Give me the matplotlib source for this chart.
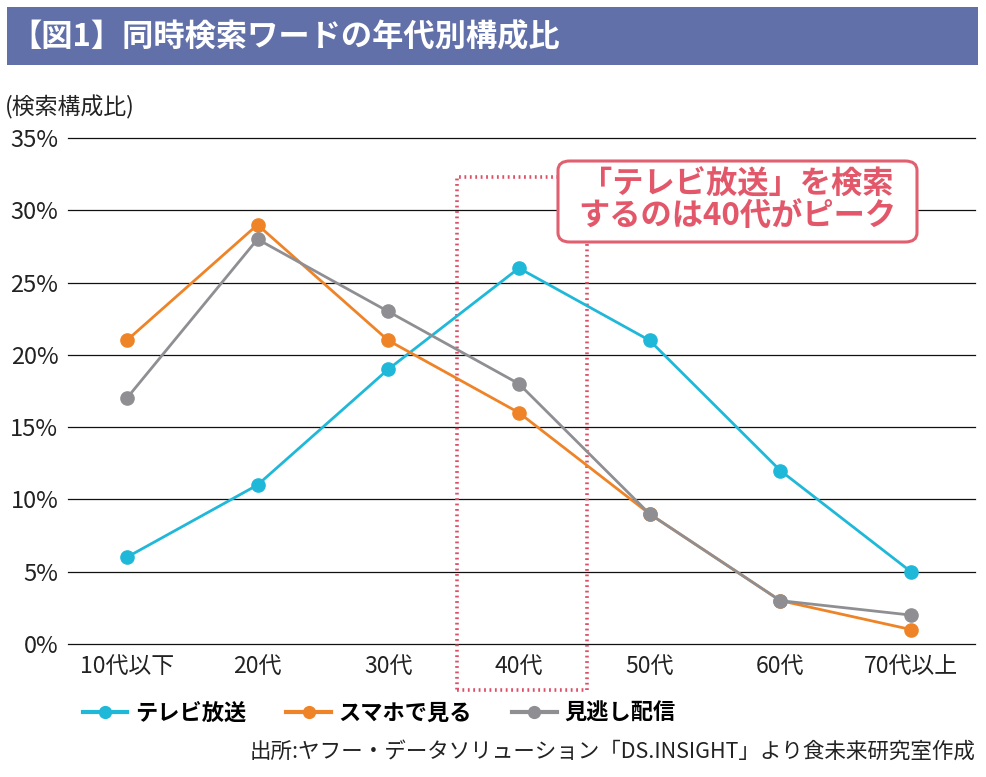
import matplotlib.pyplot as plt
from matplotlib.patches import Rectangle, FancyBboxPatch
from matplotlib.lines import Line2D

plt.rcParams['font.family'] = ['Noto Sans CJK JP', 'DejaVu Sans']

# data (percent)
ages = ['10代以下', '20代', '30代', '40代', '50代', '60代', '70代以上']
tv = [6, 11, 19, 26, 21, 12, 5]
smartphone = [21, 29, 21, 16, 9, 3, 1]
catchup = [17, 28, 23, 18, 9, 3, 2]
series_names = ['テレビ放送', 'スマホで見る', '見逃し配信']
series_colors = ['#1FB8D9', '#EE8427', '#8F8F93']
yticks = [0, 5, 10, 15, 20, 25, 30, 35]

W, H = 986, 777
fig = plt.figure(figsize=(W / 100, H / 100), dpi=100)

# title bar
fig.patches.append(Rectangle((7 / W, 1 - 65 / H), (978 - 7) / W, (65 - 7) / H,
                             transform=fig.transFigure, facecolor='#6170A8',
                             edgecolor='none', zorder=0))
fig.text(10 / W, 1 - 37 / H, '【図1】同時検索ワードの年代別構成比', color='white',
         fontsize=22.5, fontweight='bold', va='center', ha='left')

ax = fig.add_axes([68 / W, 1 - 644 / H, (975 - 68) / W, (644 - 138) / H])
x = list(range(len(ages)))
for vals, name, col in zip([tv, smartphone, catchup], series_names, series_colors):
    ax.plot(x, vals, color=col, lw=2.0, marker='o', markersize=9.5,
            label=name, zorder=4, clip_on=False)

ax.set_ylim(0, 35)
ax.set_xlim(-0.45, 6.49)
ax.set_yticks(yticks)
ax.set_yticklabels([f'{v}%' for v in yticks])
ax.set_xticks(x)
ax.set_xticklabels(ages)
ax.tick_params(axis='both', length=0, colors='#222222')
ax.tick_params(axis='y', pad=7, labelsize=17)
ax.tick_params(axis='x', pad=8, labelsize=16.5)
ax.grid(axis='y', color='#111111', lw=0.9)
for gl in ax.get_ygridlines():
    gl.set_clip_on(False)
ax.set_axisbelow(True)
for s in ax.spines.values():
    s.set_visible(False)

# dotted highlight around 40代
ax.add_patch(Rectangle((2.525, -3.2), 0.995, 35.5, fill=False, edgecolor='#DD4F66',
                       lw=2.6, linestyle=(0, (0.5, 1.0)), clip_on=False, zorder=2))

# callout box
fig.patches.append(FancyBboxPatch((558 / W, 1 - 242 / H), (917 - 558) / W, (242 - 161) / H,
                                  boxstyle='round,pad=0,rounding_size=0.012',
                                  transform=fig.transFigure, facecolor='white',
                                  edgecolor='#E0606F', lw=2.2, zorder=5))
fig.text(737 / W, 1 - 201 / H, '「テレビ放送」を検索\nするのは40代がピーク',
         color='#E2586A', fontsize=22.5, fontweight='bold', ha='center', va='center',
         linespacing=1.0, zorder=6)

fig.text(5 / W, 1 - 107 / H, '(検索構成比)', fontsize=16.5, color='#222222',
         ha='left', va='center')

handles = [Line2D([], [], color=c, lw=3, marker='o', markersize=8.5) for c in series_colors]
fig.legend(handles, series_names, loc='center left', bbox_to_anchor=(63 / W, 1 - 713 / H),
           ncol=3, frameon=False, handlelength=2.0, handletextpad=0.35,
           columnspacing=1.8, prop={'size': 16, 'weight': 'bold'})

fig.text(975 / W, 1 - 752 / H,
         '出所:ヤフー・データソリューション「DS.INSIGHT」より食未来研究室作成',
         fontsize=15.5, color='#222222', ha='right', va='center')

fig.savefig('out.png', dpi=100)
